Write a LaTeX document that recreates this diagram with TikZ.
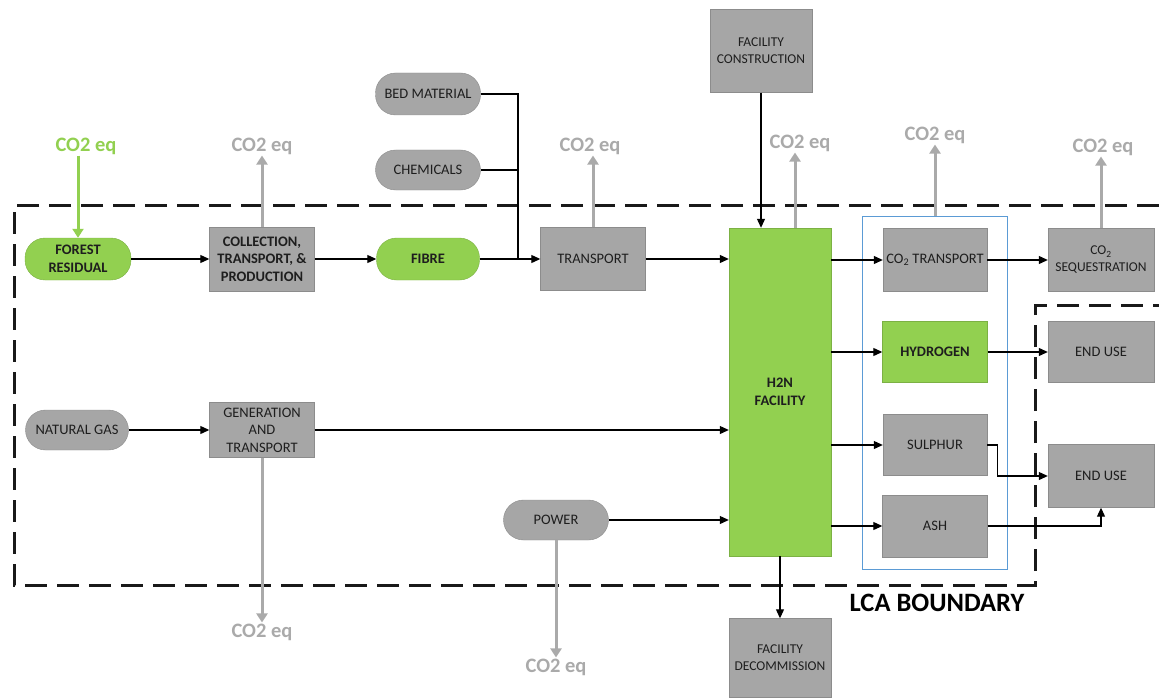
\documentclass[tikz,border=0pt]{standalone}
\usepackage{fontspec}
\setmainfont{Carlito}
\usetikzlibrary{arrows.meta,positioning,fit}
\definecolor{leaf}{RGB}{146,208,80}
\definecolor{boxgray}{RGB}{166,166,166}
\definecolor{edge}{RGB}{140,140,140}
\definecolor{fume}{RGB}{170,170,170}
\definecolor{ink}{RGB}{30,30,30}
\definecolor{frame}{RGB}{91,155,213}
\newcommand\boxfont{\fontsize{14.5}{17.5}\selectfont}
\newcommand\smallboxfont{\fontsize{13.5}{17}\selectfont}
\newcommand\eqfont{\fontsize{20.5}{24}\selectfont\bfseries}

\begin{document}
\begin{tikzpicture}[x=1pt,y=1pt,
box/.style={
rectangle,
draw=edge,
fill=boxgray,
thin,
text=ink,
align=center,
font=\boxfont,
inner sep=1pt,
minimum width=105pt,
minimum height=63pt
},
pill/.style={box,rounded corners=20pt,minimum height=42pt},
bio/.style={fill=leaf,draw=leaf!85!black,font=\boxfont\bfseries},
eq/.style={text=fume,font=\eqfont,inner sep=1pt},
to/.style={->,>={Triangle[length=9pt,width=8pt]},line width=1.1pt},
link/.style={line width=1.1pt},
emit/.style={->,>={Triangle[length=9pt,width=11pt]},draw=fume,line width=3pt},
boundary/.style={line width=3pt,dash pattern=on 22pt off 10pt,draw=black!90},
]
\useasboundingbox (0,0) rectangle (1159,-698);

% LCA boundary
\draw[boundary] (1159,-205) -- (14,-205) -- (14,-585) -- (1035,-585) -- (1035,-305) -- (1159,-305);
\node (lcalabel) [font=\fontsize{26.5}{30}\selectfont\bfseries] at (937,-603) {LCA BOUNDARY};

% biomass chain
\node (forest) [pill,bio,minimum width=106pt] at (78,-259) {FOREST\\RESIDUAL};
\node (collect) [box,right of=forest,node distance=184pt,font=\boxfont\bfseries,minimum height=64pt] {COLLECTION,\\TRANSPORT, \&\\PRODUCTION};
\node (fibre) [pill,bio,right of=collect,node distance=166pt,minimum width=103pt] {FIBRE};
\node (bed) [pill,above of=fibre,node distance=165pt] {BED MATERIAL};
\node (chem) [pill,above of=fibre,node distance=89pt,minimum height=40pt] {CHEMICALS};
\node (transp) [box,right of=fibre,node distance=165pt] {TRANSPORT};
\coordinate (merge) at (518,-259);

% facility
\node (h2n) [box,bio,minimum width=102pt,minimum height=328pt] at (780,-392) {H2N\\FACILITY};
\node (constr) [box,minimum width=102pt,minimum height=83pt,font=\smallboxfont] at (761,-51) {FACILITY\\CONSTRUCTION};
\node (decom) [box,below of=h2n,node distance=266pt,minimum width=102pt,minimum height=79pt,font=\smallboxfont] {FACILITY\\DECOMMISSION};

% products
\node (co2tr) [box,minimum width=104pt] at (935,-260) {CO\textsubscript{2} TRANSPORT};
\node (hydro) [box,bio,below of=co2tr,node distance=92pt,minimum height=61pt] {HYDROGEN};
\node (sulphur) [box,below of=hydro,node distance=93pt,minimum width=104pt,minimum height=61pt] {SULPHUR};
\node (ash) [box,below of=sulphur,node distance=81pt,minimum height=62pt] {ASH};
\node (co2box) [draw=frame,line width=1.3pt,fit=(co2tr)(ash),inner xsep=20pt,inner ysep=12pt] {};
\node (seq) [box,right of=co2tr,node distance=166pt,minimum width=106pt,font=\smallboxfont] {CO\textsubscript{2}\\SEQUESTRATION};
\node (enduseA) [box,right of=hydro,node distance=166pt,minimum width=106pt,minimum height=61pt] {END USE};
\node (enduseB) [box,minimum width=106pt] at (1101,-476) {END USE};

% energy inputs
\node (gas) [pill,minimum width=103pt,minimum height=40pt] at (77,-430) {NATURAL GAS};
\node (gen) [box,right of=gas,node distance=185pt,minimum height=55pt] {GENERATION\\AND\\TRANSPORT};
\node (power) [pill,minimum height=40pt] at (556,-520) {POWER};

% emissions
\node (eqforest) [eq,text=leaf] at (86,-146) {CO2 eq};
\node (eqcollect) [eq] at (262,-146) {CO2 eq};
\node (eqtransp) [eq] at (590,-146) {CO2 eq};
\node (eqh2n) [eq] at (800,-143) {CO2 eq};
\node (eqbox) [eq] at (935,-135) {CO2 eq};
\node (eqseq) [eq] at (1103,-147) {CO2 eq};
\node (eqgen) [eq] at (262,-632) {CO2 eq};
\node (eqpower) [eq] at (556,-667) {CO2 eq};

% flows
\draw[to] (forest.east) -- (collect.west);
\draw[to] (collect.east) -- (fibre.west);
\draw[to] (fibre.east) -- (transp.west);
\draw[link] (bed.east) -| (merge);
\draw[link] (chem.east) -- (chem.east -| merge);
\draw[to] (transp.east) -- (transp.east -| h2n.west);
\draw[to] (constr.south) -- (constr.south |- h2n.north);
\draw[to] (h2n.south) -- (decom.north);
\draw[to] (h2n.east |- co2tr.west) -- (co2tr.west);
\draw[to] (h2n.east |- hydro.west) -- (hydro.west);
\draw[to] (h2n.east |- sulphur.west) -- (sulphur.west);
\draw[to] (h2n.east |- ash.west) -- (ash.west);
\draw[to] (co2tr.east) -- (seq.west);
\draw[to] (hydro.east) -- (enduseA.west);
\draw[to] (sulphur.east) -- ++(10,0) |- (enduseB.west);
\draw[to] (ash.east) -| (enduseB.south);
\draw[to] (gas.east) -- (gen.west);
\draw[to] (gen.east) -- (gen.east -| h2n.west);
\draw[to] (power.east) -- (power.east -| h2n.west);

\draw[emit,draw=leaf] (forest.north |- eqforest.south) -- (forest.north);
\draw[emit] (collect.north) -- (collect.north |- eqcollect.south);
\draw[emit] (transp.north) -- (transp.north |- eqtransp.south);
\draw[emit] ([xshift=15pt]h2n.north) -- ([xshift=15pt]h2n.north |- eqh2n.south);
\draw[emit] (co2box.north) -- (co2box.north |- eqbox.south);
\draw[emit] (seq.north) -- (seq.north |- eqseq.south);
\draw[emit] (gen.south) -- (gen.south |- eqgen.north);
\draw[emit] (power.south) -- (power.south |- eqpower.north);
\end{tikzpicture}
\end{document}
